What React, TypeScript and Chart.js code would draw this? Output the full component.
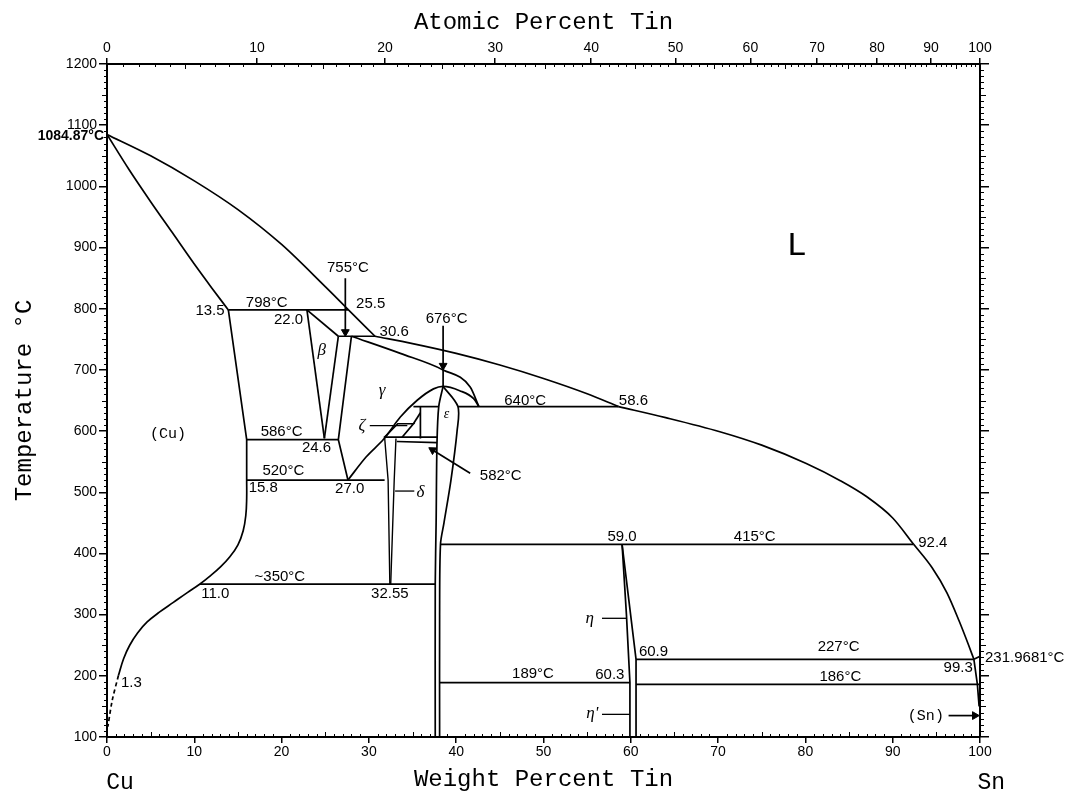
import React, { useEffect, useRef } from 'react';
import { Chart, registerables } from 'chart.js';

Chart.register(...registerables);

type P = [number, number];

// ---------- axis ticks ----------
const weightTicks = [0, 10, 20, 30, 40, 50, 60, 70, 80, 90, 100];
const atomicTicks = [0, 10, 20, 30, 40, 50, 60, 70, 80, 90, 100];
const tempTicks = [100, 200, 300, 400, 500, 600, 700, 800, 900, 1000, 1100, 1200];

const MASS_SN = 118.71;
const MASS_CU = 63.546;
const atToWt = (a: number) =>
  a <= 0 ? 0 : a >= 100 ? 100 : (100 * a * MASS_SN) / (a * MASS_SN + (100 - a) * MASS_CU);

// ---------- phase boundaries (wt% Sn, °C) ----------
const liquidusCu: P[] = [[0, 1084.87], [5, 1050], [10, 1009], [15, 962], [20, 905], [25, 836], [27.6, 799], [30.7, 755]];
const liquidusMid: P[] = [[30.7, 755], [35, 743], [40, 727], [45, 708], [50, 686], [55, 661], [58.6, 640]];
const liquidusHigh: P[] = [[58.6, 640], [64, 622], [70.2, 599], [75, 577], [80.1, 547], [84, 519], [87, 493], [90, 458], [92.4, 415]];
const liquidusSn: P[] = [[92.4, 415], [94.5, 377], [96.2, 336], [97.6, 290], [98.7, 250], [99.3, 227]];
const snMelt: P[] = [[99.3, 227], [100, 231.97]];
const solidusCu: P[] = [[0, 1084.87], [2.5, 1028], [5, 975], [7.5, 924], [10, 873], [12, 834], [13.9, 798]];
const alphaUpper: P[] = [[13.9, 798], [16.0, 586], [16.0, 520]];
const alphaLower: P[] = [[16.0, 520], [16.0, 490], [15.9, 462], [15.6, 437], [15.0, 414], [14.1, 395], [13.0, 378], [11.8, 363], [10.65, 350], [9.2, 336], [7.6, 320], [6.0, 304], [4.6, 288], [3.5, 270], [2.6, 250], [1.9, 228], [1.3, 200]];
const alphaDashed: P[] = [[1.3, 200], [0.6, 160], [0.1, 117]];
const line798: P[] = [[13.9, 798], [27.6, 798]];
const betaLeft: P[] = [[22.9, 798], [24.9, 588]];
const betaRight: P[] = [[26.5, 755], [24.9, 588]];
const betaTop: P[] = [[22.9, 798], [26.5, 755]];
const line755: P[] = [[26.5, 755], [30.7, 755]];
const gammaLeft: P[] = [[28.0, 755], [26.5, 586], [27.6, 520]];
const gammaSolidus: P[] = [[28.0, 755], [33.6, 727], [38.5, 700], [41.6, 672], [42.6, 640]];
const gammaDome: P[] = [[27.6, 520], [29.7, 558], [31.7, 587], [33.6, 623], [35.5, 650], [37.4, 669], [38.5, 673], [40.4, 666], [42, 653], [42.6, 640]];
const line586: P[] = [[16.0, 586], [26.5, 586]];
const line520: P[] = [[16.0, 520], [31.8, 520]];
const epsLeft: P[] = [[38.5, 673], [38.0, 640], [37.8, 580], [37.7, 450], [37.6, 350], [37.6, 100]];
const epsRight: P[] = [[38.5, 673], [40.2, 640], [40.1, 600], [39.4, 520], [38.6, 450], [38.2, 415], [38.1, 300], [38.1, 100]];
const line640: P[] = [[40.2, 640], [58.6, 640]];
const line640Left: P[] = [[35.1, 640], [38.0, 640]];
const zetaVertical: P[] = [[35.9, 640], [35.9, 588]];
const zetaShape: P[] = [[31.8, 590], [33.3, 612], [35.1, 612], [33.8, 590]];
const zetaDiag: P[] = [[35.1, 612], [35.9, 630]];
const line590: P[] = [[31.7, 590], [37.8, 590]];
const line582: P[] = [[33.2, 583], [37.8, 581]];
const deltaLeft: P[] = [[31.8, 590], [32.2, 520], [32.4, 350]];
const deltaRight: P[] = [[33.1, 588], [32.9, 520], [32.5, 350]];
const line350: P[] = [[10.65, 350], [37.6, 350]];
const line415: P[] = [[38.2, 415], [92.4, 415]];
const etaLeft: P[] = [[59.0, 415], [59.5, 300], [59.9, 189], [59.9, 100]];
const etaRight: P[] = [[59.0, 415], [60.6, 227], [60.6, 100]];
const line227: P[] = [[60.6, 227], [99.3, 227]];
const line189: P[] = [[38.1, 189], [59.9, 189]];
const line186: P[] = [[60.6, 186], [100, 186]];
const snSolvus: P[] = [[99.3, 227], [99.7, 186], [99.9, 150]];

// leaders and arrows
const leaderZeta: P[] = [[30.1, 609], [34.4, 609]];
const leaderDelta: P[] = [[33.0, 502], [35.2, 502]];
const leaderEta: P[] = [[56.7, 294], [59.5, 294]];
const leaderEtaPrime: P[] = [[56.7, 137], [59.9, 137]];
const arrow755: P[] = [[27.3, 850], [27.3, 762]];
const arrow676: P[] = [[38.5, 772], [38.5, 707], [38.5, 673]];
const arrow582: P[] = [[41.6, 531], [37.3, 569]];
const arrowSn: P[] = [[96.4, 135], [99.4, 135]];

// ---------- text labels ----------
type Lbl = { t: string; x: number; y: number; k: string; a?: CanvasTextAlign; dx?: number };
const labels: Lbl[] = [
  { t: '798°C', x: 18.3, y: 810, k: 'num' },
  { t: '755°C', x: 27.6, y: 866, k: 'num' },
  { t: '25.5', x: 30.2, y: 808, k: 'num' },
  { t: '13.5', x: 11.8, y: 797, k: 'num' },
  { t: '22.0', x: 20.8, y: 782, k: 'num' },
  { t: '30.6', x: 32.9, y: 762, k: 'num' },
  { t: '676°C', x: 38.9, y: 784, k: 'num' },
  { t: '640°C', x: 47.9, y: 650, k: 'num' },
  { t: '58.6', x: 60.3, y: 649, k: 'num' },
  { t: '586°C', x: 20.0, y: 598, k: 'num' },
  { t: '24.6', x: 24.0, y: 572, k: 'num' },
  { t: '520°C', x: 20.2, y: 535, k: 'num' },
  { t: '15.8', x: 17.9, y: 507, k: 'num' },
  { t: '27.0', x: 27.8, y: 506, k: 'num' },
  { t: '582°C', x: 45.1, y: 527, k: 'num' },
  { t: '~350°C', x: 19.8, y: 362, k: 'num' },
  { t: '11.0', x: 12.4, y: 334, k: 'num' },
  { t: '32.55', x: 32.4, y: 334, k: 'num' },
  { t: '1.3', x: 2.8, y: 188, k: 'num' },
  { t: '59.0', x: 59.0, y: 427, k: 'num' },
  { t: '415°C', x: 74.2, y: 427, k: 'num' },
  { t: '92.4', x: 94.6, y: 417, k: 'num' },
  { t: '60.9', x: 62.6, y: 239, k: 'num' },
  { t: '227°C', x: 83.8, y: 247, k: 'num' },
  { t: '99.3', x: 97.5, y: 213, k: 'num' },
  { t: '186°C', x: 84.0, y: 198, k: 'num' },
  { t: '189°C', x: 48.8, y: 204, k: 'num' },
  { t: '60.3', x: 57.6, y: 201, k: 'num' },
  { t: '231.9681°C', x: 100, y: 229, k: 'num', a: 'left', dx: 5 },
  { t: '1084.87°C', x: 0, y: 1082, k: 'bold', a: 'right', dx: -3 },
  { t: '(Cu)', x: 7.0, y: 596, k: 'mono' },
  { t: '(Sn)', x: 93.8, y: 135, k: 'mono' },
  { t: 'L', x: 79, y: 903, k: 'big' },
  { t: 'β', x: 24.6, y: 732, k: 'greek' },
  { t: 'γ', x: 31.5, y: 666, k: 'greek' },
  { t: 'ε', x: 38.9, y: 628, k: 'greekSmall' },
  { t: 'ζ', x: 29.2, y: 609, k: 'greek' },
  { t: 'δ', x: 35.9, y: 500, k: 'greek' },
  { t: 'η', x: 55.3, y: 294, k: 'greek' },
  { t: "η'", x: 55.6, y: 139, k: 'greek' },
  { t: 'Cu', x: 1.5, y: 25, k: 'corner' },
  { t: 'Sn', x: 101.3, y: 25, k: 'corner' },
];

const FONTS: Record<string, string> = {
  num: '15px "Liberation Sans"',
  bold: 'bold 14px "Liberation Sans"',
  mono: '15px "Liberation Mono"',
  big: '34px "Liberation Mono"',
  greek: 'italic 17px "Liberation Serif"',
  greekSmall: 'italic 14px "Liberation Serif"',
  corner: '23px "Liberation Mono"',
};

const mk = (data: P[], opts: any = {}) => ({
  data: data.map(([x, y]) => ({ x, y })),
  showLine: true,
  borderColor: '#000',
  backgroundColor: '#000',
  borderWidth: 1.7,
  pointRadius: 0,
  pointHoverRadius: 0,
  tension: 0,
  fill: false,
  ...opts,
});

const mkArrow = (data: P[], tip: number) =>
  mk(data, {
    pointRadius: data.map((_, i) => (i === tip ? 4.5 : 0)),
    pointStyle: 'triangle',
    pointBackgroundColor: '#000',
    pointBorderColor: '#000',
    pointBorderWidth: 1,
    rotation: (c: any) => {
      const ch = c.chart;
      const a = data[tip - 1];
      const b = data[tip];
      if (!ch.scales || !ch.scales.x) return 0;
      const dx = ch.scales.x.getPixelForValue(b[0]) - ch.scales.x.getPixelForValue(a[0]);
      const dy = ch.scales.y.getPixelForValue(b[1]) - ch.scales.y.getPixelForValue(a[1]);
      return (Math.atan2(dy, dx) * 180) / Math.PI + 90;
    },
  });

const tickFont = { family: '"Liberation Sans"', size: 14 };
const titleFont = { family: '"Liberation Mono"', size: 24 };

const decorPlugin = {
  id: 'decor',
  afterDraw(chart: any) {
    const { ctx, scales, chartArea } = chart;
    const sx = scales.x;
    const sy = scales.y;
    const { left, right, top, bottom } = chartArea;
    ctx.save();
    ctx.strokeStyle = '#000';
    ctx.lineWidth = 1;
    ctx.beginPath();
    for (let t = 100; t <= 1200; t += 10) {
      if (t % 100 === 0) continue;
      const y = Math.round(sy.getPixelForValue(t)) + 0.5;
      const len = t % 50 === 0 ? 5 : 3;
      ctx.moveTo(left - len, y);
      ctx.lineTo(left, y);
      ctx.moveTo(right, y);
      ctx.lineTo(right + len + 1, y);
    }
    for (let w = 1; w < 100; w += 1) {
      if (w % 10 === 0) continue;
      const x = Math.round(sx.getPixelForValue(w)) + 0.5;
      const len = w % 5 === 0 ? 5 : 3;
      ctx.moveTo(x, bottom);
      ctx.lineTo(x, bottom - len);
    }
    for (let a = 1; a < 100; a += 1) {
      if (a % 10 === 0) continue;
      const x = Math.round(sx.getPixelForValue(atToWt(a))) + 0.5;
      const len = a % 5 === 0 ? 5 : 3;
      ctx.moveTo(x, top);
      ctx.lineTo(x, top + len);
    }
    ctx.stroke();

    ctx.fillStyle = '#000';
    ctx.textBaseline = 'middle';
    for (const l of labels) {
      ctx.font = FONTS[l.k];
      ctx.textAlign = l.a || 'center';
      const x = sx.getPixelForValue(l.x) + (l.dx || 0);
      const y = sy.getPixelForValue(l.y);
      ctx.fillText(l.t, x, y);
    }
    ctx.restore();
  },
};

export default function App() {
  const ref = useRef<HTMLCanvasElement | null>(null);

  useEffect(() => {
    if (!ref.current) return;
    const mono = { cubicInterpolationMode: 'monotone' };
    const datasets: any[] = [
      mk(liquidusCu, mono),
      mk(liquidusMid, mono),
      mk(liquidusHigh, mono),
      mk(liquidusSn, mono),
      mk(snMelt),
      mk(solidusCu, mono),
      mk(alphaUpper),
      mk(alphaLower, { tension: 0.4 }),
      mk(alphaDashed, { borderDash: [4, 3], tension: 0.3 }),
      mk(line798),
      mk(betaLeft),
      mk(betaRight),
      mk(betaTop),
      mk(line755),
      mk(gammaLeft),
      mk(gammaSolidus, mono),
      mk(gammaDome, mono),
      mk(line586),
      mk(line520),
      mk(epsLeft, { tension: 0.3 }),
      mk(epsRight, { tension: 0.3 }),
      mk(line640),
      mk(line640Left),
      mk(zetaVertical),
      mk(zetaShape),
      mk(zetaDiag),
      mk(line590),
      mk(line582),
      mk(deltaLeft, { borderWidth: 1.4 }),
      mk(deltaRight, { borderWidth: 1.4 }),
      mk(line350),
      mk(line415),
      mk(etaLeft),
      mk(etaRight),
      mk(line227),
      mk(line189),
      mk(line186),
      mk(snSolvus),
      mk(leaderZeta, { borderWidth: 1.3 }),
      mk(leaderDelta, { borderWidth: 1.3 }),
      mk(leaderEta, { borderWidth: 1.3 }),
      mk(leaderEtaPrime, { borderWidth: 1.3 }),
      mkArrow(arrow755, 1),
      mkArrow(arrow676, 1),
      mkArrow(arrow582, 1),
      mkArrow(arrowSn, 1),
    ];

    const chart = new Chart(ref.current, {
      type: 'scatter',
      data: { datasets },
      options: {
        responsive: false,
        animation: false,
        layout: { padding: 0 },
        plugins: { legend: { display: false }, tooltip: { enabled: false } },
        events: [],
        scales: {
          x: {
            type: 'linear',
            position: 'bottom',
            min: 0,
            max: 100,
            afterBuildTicks: (s: any) => {
              s.ticks = weightTicks.map((v) => ({ value: v }));
            },
            afterFit: (s: any) => {
              s.height = 61;
            },
            ticks: { font: tickFont, color: '#000', padding: 1, maxRotation: 0, autoSkip: false, callback: (v: any) => String(v) },
            grid: { drawOnChartArea: false, tickLength: 6, color: '#000', lineWidth: 1.5 },
            border: { color: '#000', width: 2 },
            title: { display: true, text: 'Weight Percent Tin', font: titleFont, color: '#000', padding: { top: 0, bottom: 4 } },
          },
          xTop: {
            type: 'linear',
            position: 'top',
            min: 0,
            max: 100,
            afterBuildTicks: (s: any) => {
              s.ticks = atomicTicks.map((a) => ({ value: atToWt(a) }));
            },
            afterFit: (s: any) => {
              s.height = 64;
            },
            ticks: {
              font: tickFont,
              color: '#000',
              padding: 1,
              maxRotation: 0,
              autoSkip: false,
              callback: (_v: any, i: number) => String(atomicTicks[i]),
            },
            grid: { drawOnChartArea: false, tickLength: 6, color: '#000', lineWidth: 1.5 },
            border: { color: '#000', width: 2 },
            title: { display: true, text: 'Atomic Percent Tin', font: titleFont, color: '#000', padding: { top: 8, bottom: 0 } },
          },
          y: {
            type: 'linear',
            position: 'left',
            min: 100,
            max: 1200,
            afterBuildTicks: (s: any) => {
              s.ticks = tempTicks.map((v) => ({ value: v }));
            },
            afterFit: (s: any) => {
              s.width = 107;
            },
            ticks: { font: tickFont, color: '#000', padding: 2, callback: (v: any) => String(v) },
            grid: { drawOnChartArea: false, tickLength: 8, color: '#000', lineWidth: 1.5 },
            border: { color: '#000', width: 2 },
            title: { display: true, text: 'Temperature °C', font: titleFont, color: '#000', padding: { top: 10, bottom: 0 } },
          },
          yRight: {
            type: 'linear',
            position: 'right',
            min: 100,
            max: 1200,
            afterBuildTicks: (s: any) => {
              s.ticks = tempTicks.map((v) => ({ value: v }));
            },
            afterFit: (s: any) => {
              s.width = 103;
            },
            ticks: { display: false },
            grid: { drawOnChartArea: false, tickLength: 9, color: '#000', lineWidth: 1.5 },
            border: { color: '#000', width: 2 },
          },
        },
      },
      plugins: [decorPlugin],
    });
    return () => chart.destroy();
  }, []);

  return (
    <div style={{ position: 'fixed', left: 0, top: 0, width: 1083, height: 798, background: '#fff' }}>
      <canvas ref={ref} width={1083} height={798} style={{ display: 'block', width: 1083, height: 798 }} />
    </div>
  );
}
